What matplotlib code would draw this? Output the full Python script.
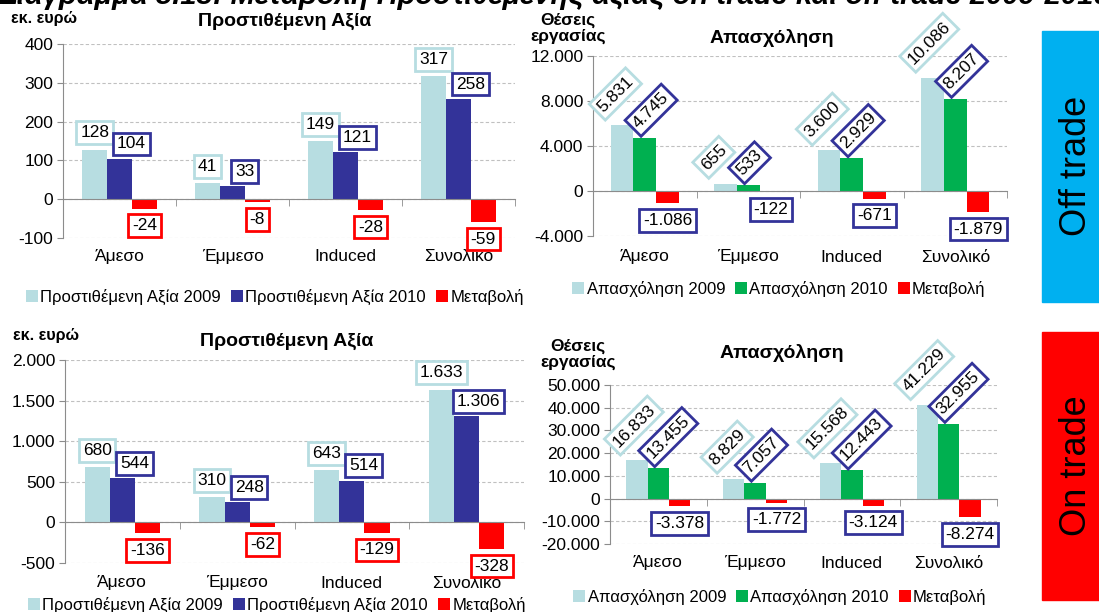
import numpy as np
import matplotlib
matplotlib.use("Agg")
import matplotlib.pyplot as plt
from matplotlib.patches import Rectangle

plt.rcParams['font.family'] = ['Liberation Sans', 'DejaVu Sans']

W, H = 1099, 612

# ---------------- data ----------------
categories = ['Άμεσο', 'Έμμεσο', 'Induced', 'Συνολικό']

off_va_2009 = [128, 41, 149, 317]
off_va_2010 = [104, 33, 121, 258]
off_va_chg = [-24, -8, -28, -59]

off_emp_2009 = [5831, 655, 3600, 10086]
off_emp_2010 = [4745, 533, 2929, 8207]
off_emp_chg = [-1086, -122, -671, -1879]

on_va_2009 = [680, 310, 643, 1633]
on_va_2010 = [544, 248, 514, 1306]
on_va_chg = [-136, -62, -129, -328]

on_emp_2009 = [16833, 8829, 15568, 41229]
on_emp_2010 = [13455, 7057, 12443, 32955]
on_emp_chg = [-3378, -1772, -3124, -8274]

va_labels = ['Προστιθέμενη Αξία 2009', 'Προστιθέμενη Αξία 2010', 'Μεταβολή']
emp_labels = ['Απασχόληση 2009', 'Απασχόληση 2010', 'Μεταβολή']

off_va_ticks = [-100, 0, 100, 200, 300, 400]
off_emp_ticks = [-4000, 0, 4000, 8000, 12000]
on_va_ticks = [-500, 0, 500, 1000, 1500, 2000]
on_emp_ticks = [-20000, -10000, 0, 10000, 20000, 30000, 40000, 50000]

# ---------------- style ----------------
LB = '#B7DDE1'
NAVY = '#333399'
GREEN = '#00B050'
RED = '#FF0000'
GRAY = '#8C8C8C'


def fmt(v):
    return f"{v:,}".replace(',', '.')


def px_axes(l, r, t, b):
    return [l / W, 1 - b / H, (r - l) / W, (b - t) / H]


fig = plt.figure(figsize=(W / 100, H / 100), dpi=100)


def panel(rect, v09, v10, chg, c10, chg_edge, ticks, labels, rotated,
          cat_off, leg_xy, title, title_xy, ylab, ylab_xy, ylab_size):
    ax = fig.add_axes(px_axes(*rect))
    x = np.arange(len(categories))
    w = 0.22
    ax.bar(x - w, v09, w, color=LB, label=labels[0], zorder=3)
    ax.bar(x, v10, w, color=c10, label=labels[1], zorder=3)
    ax.bar(x + w, chg, w, color=RED, label=labels[2], zorder=3)
    ax.set_xlim(-0.5, len(categories) - 0.5)
    ax.set_ylim(ticks[0], ticks[-1])
    ax.set_yticks(ticks)
    ax.set_yticklabels([fmt(t) for t in ticks], fontsize=12.5)
    ax.yaxis.grid(True, linestyle=(0, (3, 2)), color='#C0C0C0', lw=0.8, zorder=0)
    for s in ['top', 'right']:
        ax.spines[s].set_visible(False)
    ax.spines['left'].set_color(GRAY)
    ax.spines['bottom'].set_color(GRAY)
    ax.spines['bottom'].set_position(('data', 0))
    ax.spines['bottom'].set_zorder(4)
    ax.tick_params(axis='y', length=4, color=GRAY, pad=3)
    ax.set_xticks(x)
    ax.set_xticklabels([])
    ax.tick_params(axis='x', which='major', length=0)
    ax.set_xticks(np.arange(len(categories) + 1) - 0.5, minor=True)
    ax.tick_params(axis='x', which='minor', length=5, color=GRAY, direction='out')

    for xi, c in zip(x, categories):
        ax.annotate(c, (xi, ticks[0]), xytext=(0, -cat_off), textcoords='offset pixels',
                    ha='center', va='center', fontsize=12.5, annotation_clip=False)

    box = lambda ec: dict(boxstyle='square,pad=0.22', fc='white', ec=ec, lw=2)
    for xi, v in zip(x - w, v09):
        if rotated:
            ax.annotate(fmt(v), (xi, v), xytext=(-22, 16), textcoords='offset pixels',
                        rotation=45, rotation_mode='anchor', ha='left', va='center',
                        fontsize=12.5, bbox=box(LB), zorder=6, annotation_clip=False)
        else:
            ax.annotate(fmt(v), (xi, v), xytext=(0, 17), textcoords='offset pixels',
                        ha='center', va='center', fontsize=12.5, bbox=box(LB),
                        zorder=6, annotation_clip=False)
    for xi, v in zip(x, v10):
        if rotated:
            ax.annotate(fmt(v), (xi, v), xytext=(-9, 12), textcoords='offset pixels',
                        rotation=45, rotation_mode='anchor', ha='left', va='center',
                        fontsize=12.5, bbox=box(NAVY), zorder=7, annotation_clip=False)
        else:
            ax.annotate(fmt(v), (xi, v), xytext=(12, 15), textcoords='offset pixels',
                        ha='center', va='center', fontsize=12.5, bbox=box(NAVY),
                        zorder=7, annotation_clip=False)
    for xi, v in zip(x + w, chg):
        ax.annotate(fmt(v), (xi, v), xytext=(0, -17), textcoords='offset pixels',
                    ha='center', va='center', fontsize=12.5, bbox=box(chg_edge),
                    zorder=7, annotation_clip=False)

    fig.legend(loc='center', bbox_to_anchor=(leg_xy[0] / W, 1 - leg_xy[1] / H),
               handles=ax.containers, labels=labels, ncol=3, frameon=False,
               fontsize=12, handlelength=0.7, handleheight=0.7, handletextpad=0.15,
               columnspacing=0.6, borderpad=0)
    fig.text(title_xy[0] / W, 1 - title_xy[1] / H, title, ha='center', va='center',
             fontsize=14, fontweight='bold')
    fig.text(ylab_xy[0] / W, 1 - ylab_xy[1] / H, ylab, ha='center', va='center',
             fontsize=ylab_size, fontweight='bold', linespacing=1.05)
    return ax


panel((63, 515, 44, 238), off_va_2009, off_va_2010, off_va_chg, NAVY, RED,
      off_va_ticks, va_labels, False, 19, (275, 297),
      'Προστιθέμενη Αξία', (285, 21), 'εκ. ευρώ', (44, 19), 11.5)
panel((593, 1007, 56, 236), off_emp_2009, off_emp_2010, off_emp_chg, GREEN, NAVY,
      off_emp_ticks, emp_labels, True, 21, (779, 289),
      'Απασχόληση', (772, 38), 'Θέσεις\nεργασίας', (568, 28), 12.5)
panel((65, 524, 360, 563), on_va_2009, on_va_2010, on_va_chg, NAVY, RED,
      on_va_ticks, va_labels, False, 20, (277, 605),
      'Προστιθέμενη Αξία', (287, 341), 'εκ. ευρώ', (46, 335), 11.5)
panel((610, 997, 385, 544), on_emp_2009, on_emp_2010, on_emp_chg, GREEN, NAVY,
      on_emp_ticks, emp_labels, True, 19, (780, 597),
      'Απασχόληση', (782, 353), 'Θέσεις\nεργασίας', (578, 354), 12.5)

# side tags
fig.patches.append(Rectangle((1042 / W, 1 - 302 / H), 57 / W, 271 / H,
                             transform=fig.transFigure, color='#00B0F0', zorder=0))
fig.patches.append(Rectangle((1042 / W, 1 - 600 / H), 57 / W, 268 / H,
                             transform=fig.transFigure, color='#FF0000', zorder=0))
fig.text(1076 / W, 1 - 166 / H, 'Off trade', rotation=90, ha='center', va='center',
         fontsize=26)
fig.text(1076 / W, 1 - 466 / H, 'On trade', rotation=90, ha='center', va='center',
         fontsize=26)

# cropped main title
fig.text(-2 / W, 1 - 4 / H,
         'Διάγραμμα 5.13: Μεταβολή Προστιθέμενης αξίας on trade και off trade 2009-2010',
         ha='left', va='baseline', fontsize=21, fontweight='bold', fontstyle='italic')

fig.savefig('out.png', dpi=100)
